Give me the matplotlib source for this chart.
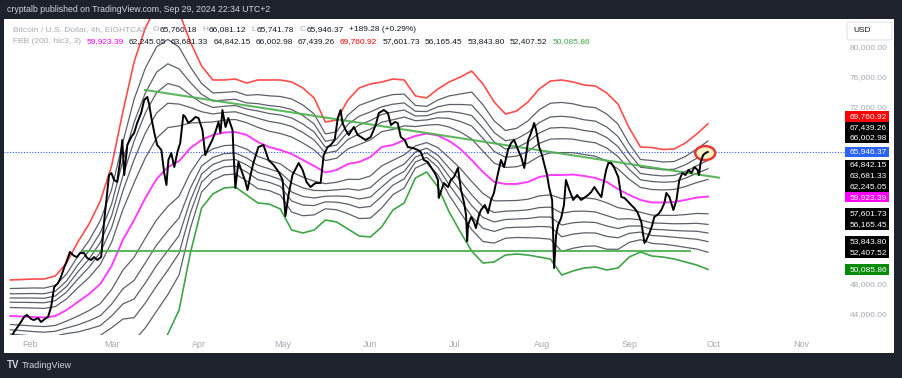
import numpy as np
import pandas as pd
import matplotlib
matplotlib.use("Agg")
import matplotlib.pyplot as plot
import matplotlib.dates as mdates
from matplotlib.patches import Ellipse, Rectangle, FancyBboxPatch

W, H = 902, 378

plot.rcParams["font.family"] = ["Liberation Sans", "DejaVu Sans"]

GRAY = "#a8abb5"
INK = "#131722"

# ---- BTCUSD 4h (days after 2024-02-01, close) ----
t0 = pd.Timestamp("2024-02-01")
price_days = [
    -7.5, -5.7, -3.9, -2.1, -1.1, 0.4, 1.4, 2.9, 3.9, 5.3, 6.4, 7.5, 8.6, 10.0, 11.0,
    12.1, 13.2, 14.2, 15.7, 16.7, 17.8, 19.2, 20.3, 21.7, 22.8, 23.9, 25.3, 26.4, 27.4,
    28.1, 28.9, 29.9, 31.0, 32.1, 32.8, 33.5, 34.6, 36.0, 37.0, 38.1, 39.5, 40.6, 41.7,
    42.4, 43.1, 44.2, 45.2, 46.7, 47.7, 48.5, 49.2, 50.2, 51.3, 52.4, 53.4, 54.5, 55.2,
    56.3, 57.7, 58.8, 59.9, 61.3, 62.3, 63.4, 64.8, 65.9, 67.0, 67.7, 68.4, 69.5, 70.5,
    72.0, 72.3, 73.0, 74.1, 75.5, 76.6, 77.3, 78.4, 79.4, 81.2, 83.0, 84.8, 86.6, 88.4,
    89.8, 90.8, 91.9, 93.3, 95.5, 96.9, 98.3, 99.7, 101.5, 103.3, 104.4, 105.8, 106.9,
    108.3, 109.4, 110.4, 111.1, 112.2, 113.3, 115.1, 116.5, 117.6, 119.3, 121.1, 122.9,
    124.0, 125.8, 127.2, 128.3, 129.7, 130.7, 131.8, 133.2, 134.3, 136.1, 137.9, 138.9,
    140.0, 141.4, 142.5, 143.9, 145.0, 145.3, 147.1, 148.6, 149.6, 150.7, 152.1, 153.2,
    154.3, 155.0, 155.4, 155.7, 156.8, 157.8, 158.5, 159.6, 160.3, 161.7, 162.8, 163.9,
    164.9, 166.0, 167.4, 168.5, 169.9, 171.0, 172.1, 173.5, 174.6, 175.7, 177.1, 178.1,
    179.2, 179.9, 181.0, 182.0, 182.7, 183.8, 184.5, 185.6, 186.3, 187.0, 187.7, 188.8,
    189.8, 190.5, 191.7, 193.1, 194.5, 195.9, 197.4, 198.4, 199.5, 200.6, 202.0, 203.1,
    204.1, 204.8, 205.6, 206.6, 207.7, 209.1, 210.2, 211.3, 212.7, 213.7, 214.8, 215.9,
    217.3, 218.4, 219.1, 220.2, 221.2, 221.9, 223.4, 224.4, 225.5, 226.2, 227.3, 228.7,
    229.8, 230.8, 231.9, 233.0, 234.1, 235.1, 236.2, 237.3, 237.8, 238.4, 239.3, 240.1,
    240.9,
]
price_close = [
    40200, 41630, 42580, 43660, 43930, 43390, 43250, 43520, 42980, 43390, 43660, 45010,
    47710, 48250, 49060, 50280, 51360, 52440, 51900, 51760, 52300, 52300, 51630, 51360,
    51760, 51360, 51760, 56760, 60410, 62840, 63110, 62170, 61900, 64870, 67570, 62840,
    66900, 67980, 68520, 69870, 71220, 72980, 73380, 72300, 70680, 68520, 66900, 66220,
    63110, 61490, 64870, 65810, 63920, 65950, 67170, 70950, 70680, 69870, 70270, 70680,
    70540, 68920, 65540, 66490, 67570, 68650, 70000, 68520, 71620, 69330, 70540, 68920,
    66220, 61090, 64600, 63110, 61900, 60820, 62840, 64460, 66620, 66900, 64870, 64190,
    63250, 62170, 57300, 60140, 62840, 64460, 63520, 61900, 61220, 61760, 61760, 65540,
    66620, 66900, 67570, 70540, 71620, 69870, 68920, 68250, 69330, 68250, 67980, 67570,
    67980, 69600, 71220, 71620, 71220, 69600, 70000, 69870, 67980, 67570, 66620, 66490,
    66220, 65950, 64870, 64600, 63920, 63110, 62170, 59740, 61760, 61220, 62170, 62570,
    63790, 60820, 59060, 57440, 53900, 56090, 57170, 56490, 55680, 57440, 58110, 58790,
    57710, 59470, 60410, 62440, 64870, 63920, 66220, 67170, 67570, 66220, 65270, 63790,
    67570, 68520, 69870, 68920, 66620, 65540, 64460, 62840, 61220, 59470, 50280, 54740,
    56090, 57030, 58790, 62170, 60820, 59470, 60140, 59470, 59870, 60140, 60550, 61220,
    60410, 59870, 62170, 63520, 64460, 64460, 63790, 62570, 59870, 59740, 59200, 58790,
    58380, 57840, 56490, 53660, 54060, 55010, 56090, 57170, 57570, 58110, 59060, 60410,
    59870, 58110, 59470, 62170, 63110, 62840, 63520, 63110, 63920, 63520, 62840, 64600,
    65540, 65810, 65946.37,
]

# ---- FBB (200, hlc3, 3): basis and outer bands, sampled every 4 days ----
band_dates = pd.date_range("2024-01-25", periods=63, freq="4D")
basis = [
    43790, 43730, 43660, 43590, 43790, 44600, 45690, 46770, 48120, 50550,
    54060, 56760, 59740, 62300, 63920, 64730, 66490, 67570, 68250, 68580,
    68650, 68250, 67300, 66620, 66220, 65680, 64870, 64060, 63180, 63520,
    64330, 64600, 65270, 66620, 66900, 67570, 68110, 68450, 68180, 67440,
    66360, 64870, 63250, 61900, 61630, 61630, 61900, 62570, 62840, 62840,
    62910, 62710, 62440, 61900, 60950, 60140, 59470, 59130, 59130, 59200,
    59470, 59800, 59923.39,
]
upper = [
    48660, 48720, 48790, 48790, 49200, 50950, 53790, 56220, 59330, 64060,
    71350, 78110, 82700, 85670, 86490, 84860, 80810, 77570, 75680, 75680,
    75810, 75270, 75680, 75680, 75680, 75410, 74600, 73250, 70000, 70270,
    72980, 74600, 75140, 75410, 75810, 75680, 73520, 73250, 74460, 75410,
    76080, 76890, 75140, 72700, 71080, 71490, 72700, 74460, 75540, 75680,
    75410, 75000, 74870, 73920, 72430, 69190, 66620, 66560, 66290, 66360,
    67170, 68380, 69760.92,
]
lower = [
    38930, 38730, 38520, 38390, 38390, 38250, 37580, 37310, 36900, 37040,
    36770, 35420, 36770, 38930, 41360, 44600, 52300, 58380, 60280, 61090,
    61220, 60140, 59060, 58920, 58250, 55410, 55010, 55410, 56760, 56490,
    55550, 54600, 54470, 55820, 58110, 59060, 62440, 63250, 61220, 57840,
    55140, 52570, 50950, 51090, 52030, 52170, 52030, 51760, 51490, 49330,
    49870, 50280, 50410, 50010, 50280, 51760, 52440, 51900, 51760, 51490,
    51090, 50680, 50085.86,
]
fib_levels = [0.236, 0.382, 0.5, 0.618, 0.764]

# last bar values (legend and price scale)
ohlc_keys = ["O", "H", "L", "C"]
ohlc_vals = [65760.18, 66081.12, 65741.78, 65946.37]
change, change_pct = 189.28, 0.29
fbb_basis_last = 59923.39
fbb_upper_last = [62245.05, 63681.33, 64842.15, 66002.98, 67439.26, 69760.92]
fbb_lower_last = [57601.73, 56165.45, 53843.80, 52407.52, 50085.86]

# drawn trend lines
support_level = 52600
support_span = ["2024-02-20 00:00", "2024-09-22 12:00"]
trend_dates = ["2024-03-12 20:00", "2024-10-02 22:00"]
trend_prices = [74330, 62480]

months = pd.date_range("2024-02-01", "2024-11-01", freq="MS")
price_ticks = list(range(44000, 80001, 4000))


def fx(px):
    return px / W


def fy(py):
    return 1 - py / H


fig = plot.figure(figsize=(W / 100, H / 100), dpi=100)
fig.patch.set_facecolor("#1e222d")
fig.add_artist(Rectangle((fx(4), fy(353)), fx(894) - fx(4), fy(19) - fy(353),
                         transform=fig.transFigure, facecolor="white",
                         edgecolor="none", zorder=0))

ax = fig.add_axes([fx(4), fy(335), fx(845) - fx(4), fy(19) - fy(335)])
ax.set_facecolor("white")
for s in ax.spines.values():
    s.set_visible(False)

ymin, ymax = 41226, 83918
ax.set_ylim(ymin, ymax)
ax.set_xlim(t0 + pd.Timedelta(days=-9.24), t0 + pd.Timedelta(days=289.7))
px = (ymax - ymin) / 316.0

# bands
b = np.array(basis)
up = np.array(upper)
lo = np.array(lower)
for f in fib_levels:
    ax.plot(band_dates, b + f * (up - b), color="#5d606b", lw=0.9, zorder=2)
    ax.plot(band_dates, b - f * (b - lo), color="#5d606b", lw=0.9, zorder=2)
ax.plot(band_dates, up, color="#ff4d4d", lw=1.2, zorder=2)
ax.plot(band_dates, lo, color="#3fa548", lw=1.2, zorder=2)
ax.plot(band_dates, b, color="#ff3dff", lw=1.4, zorder=2)

# trend lines
ax.plot(pd.to_datetime(support_span), [support_level] * 2, color="#4caf50", lw=1.5, alpha=0.9, zorder=3)
ax.plot(pd.to_datetime(trend_dates), trend_prices, color="#4caf50", lw=1.5, alpha=0.9, zorder=3)

# price
dates = t0 + pd.to_timedelta(price_days, unit="D")
last = price_close[-1]
ax.axhline(last, color="#2962ff", lw=0.8, ls=(0, (1, 1.5)), zorder=1)
ax.add_patch(Ellipse((mdates.date2num(dates[-1] - pd.Timedelta(days=0.9)), last - 140),
                     width=7.1, height=14 * px, facecolor="#fdf3c4",
                     edgecolor="#e53935", lw=1.8, zorder=4))
ax.plot(dates, price_close, color="black", lw=1.4, zorder=5)

# time axis
ax.set_xticks(months)
ax.set_xticklabels([m.strftime("%b") for m in months])
ax.tick_params(axis="x", length=0, pad=3.5, labelsize=6.5, labelcolor=GRAY)
ax.set_yticks([])

# price scale labels, pushed apart like the platform does
ytr = ax.get_yaxis_transform()
box_h = 10.7 * px
tx = (850 - 4) / 841
labels = [(last, last, "#2962ff")]
above = sorted([v for v in fbb_upper_last if v > last])
below = sorted([v for v in fbb_upper_last if v <= last] + [fbb_basis_last] + fbb_lower_last, reverse=True)
prev, step = last, 14 * px
for v in above:
    prev = max(v, prev + step)
    step = box_h
    labels.append((v, prev, "#ff0000" if v == fbb_upper_last[-1] else "black"))
prev, step = last, 13 * px
for v in below:
    prev = min(v, prev - step)
    step = box_h
    bg = "black"
    if v == fbb_basis_last:
        bg = "#ff00ff"
    elif v == fbb_lower_last[-1]:
        bg = "#088a08"
    labels.append((v, prev, bg))

for v, y, bg in labels:
    ax.add_patch(Rectangle((1.0, y - box_h / 2), 44 / 841, box_h, transform=ytr,
                           clip_on=False, facecolor=bg, edgecolor="none", zorder=6))
    ax.text(tx, y, f"{v:,.2f}", transform=ytr, color="white", fontsize=6,
            va="center", ha="left", zorder=7, clip_on=False)

for t in price_ticks:
    if min(abs(t - y) for _, y, _ in labels) / px > 9:
        ax.text(tx, t, f"{t:,.2f}", transform=ytr, color=GRAY, fontsize=6,
                va="center", ha="left", clip_on=False)

fig.add_artist(FancyBboxPatch((fx(847), fy(40)), fx(892) - fx(847), fy(22) - fy(40),
                              boxstyle="round,pad=0,rounding_size=0.004",
                              transform=fig.transFigure, facecolor="white",
                              edgecolor="#e0e3eb", lw=0.8, zorder=5))
fig.text(fx(853), fy(31), "USD", color=INK, fontsize=6, va="center", zorder=6)

# header / footer
fig.text(fx(7), fy(10), "cryptalb published on TradingView.com, Sep 29, 2024 22:34 UTC+2",
         color="#d1d4dc", fontsize=6.3, va="center")
fig.text(fx(7), fy(365), "TV", color="#d1d4dc", fontsize=7, weight="bold", va="center")
fig.text(fx(22), fy(365), "TradingView", color="#d1d4dc", fontsize=6.5, va="center")

# legend rows
renderer = fig.canvas.get_renderer()


def run(pieces, x, y):
    for text, color, gap in pieces:
        t = fig.text(fx(x), fy(y), text, color=color, fontsize=6, va="center", ha="left")
        x += t.get_window_extent(renderer).width + gap


row1 = [("Bitcoin / U.S. Dollar, 4h, EIGHTCAP", GRAY, 5)]
for k, v in zip(ohlc_keys, ohlc_vals):
    row1 += [(k, GRAY, 0.5), (f"{v:,.2f}", INK, 5.5)]
row1.append((f"{change:+,.2f} ({change_pct:+.2f}%)", INK, 0))
run(row1, 12.7, 29.5)

row2 = [("FBB (200, hlc3, 3)", GRAY, 5.5), (f"{fbb_basis_last:,.2f}", "#ff00ff", 5)]
for v in fbb_upper_last:
    row2.append((f"{v:,.2f}", "#ff0000" if v == fbb_upper_last[-1] else INK, 5))
for v in fbb_lower_last:
    row2.append((f"{v:,.2f}", "#3fa548" if v == fbb_lower_last[-1] else INK, 5))
run(row2, 12.7, 41.5)

fig.savefig("out.png", dpi=100, facecolor=fig.get_facecolor())
